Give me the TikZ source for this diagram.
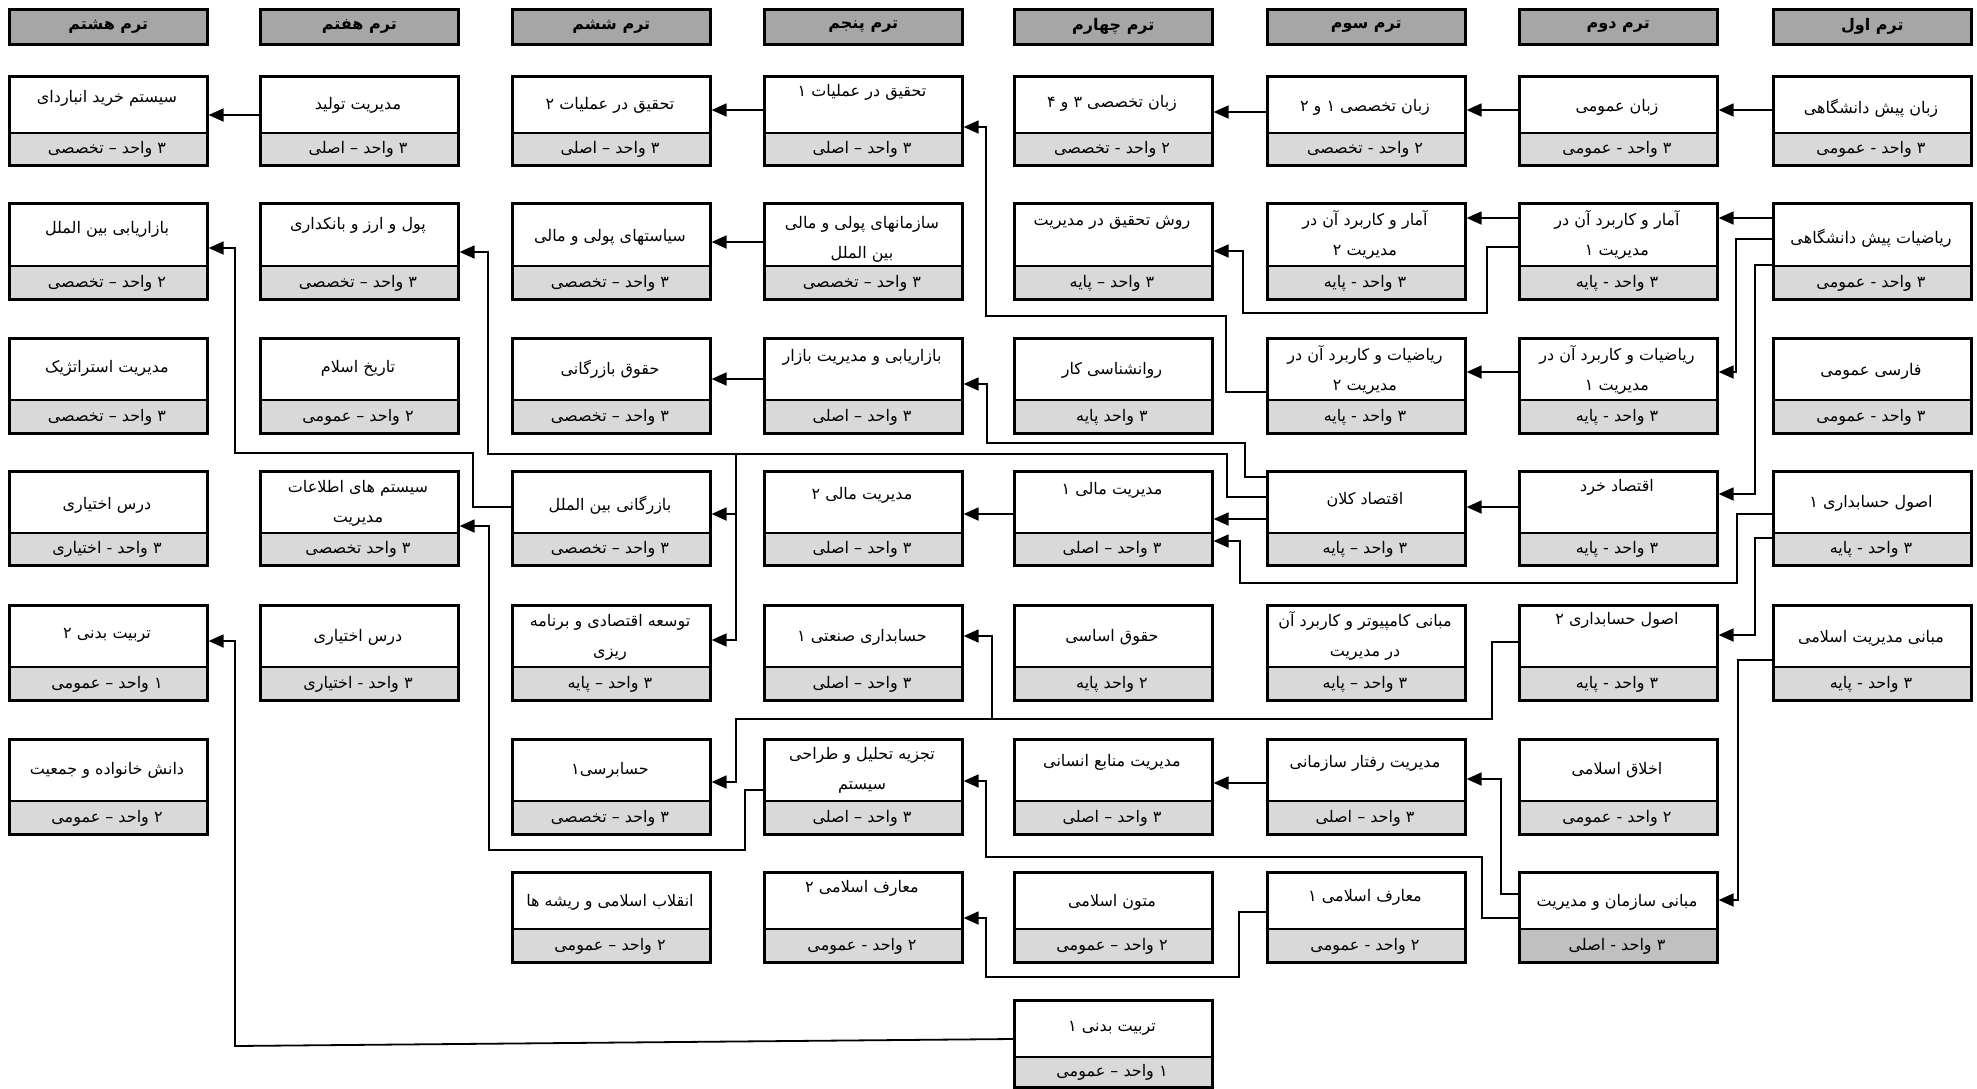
\documentclass[tikz,border=0pt]{standalone}
\usepackage{fontspec}
\newfontfamily\fa[Script=Arabic]{DejaVu Sans}
\TeXXeTstate=1
\usetikzlibrary{arrows.meta}
\definecolor{hdrgray}{HTML}{A6A6A6}
\definecolor{unitgray}{HTML}{D9D9D9}
\definecolor{unitdark}{HTML}{C0C0C0}
\makeatletter
\newcommand\setrow[4]{\@namedef{rt#1}{#2}\@namedef{rd#1}{#3}\@namedef{rb#1}{#4}}
\newcommand\setcol[2]{\@namedef{cx#1}{#2}}
\makeatother
\setrow{1}{75}{133}{164}
\setrow{2}{202}{266}{298}
\setrow{3}{337}{400}{432}
\setrow{4}{470}{533}{564}
\setrow{5}{604}{667}{699}
\setrow{6}{738}{801}{833}
\setrow{7}{871}{929}{961}
\setrow{8}{999}{1057}{1086}
\setcol{1}{1772}\setcol{2}{1518}\setcol{3}{1266}\setcol{4}{1013}
\setcol{5}{763}\setcol{6}{511}\setcol{7}{259}\setcol{8}{8}
\tikzset{
  boxframe/.style={draw, line width=1.3pt, minimum width=99pt, anchor=north west, inner sep=0pt},
  divline/.style={line width=1.3pt},
  nametext/.style={font=\fa\fontsize{8}{15}\selectfont, align=center, inner sep=0pt},
  unittext/.style={font=\fa\fontsize{8}{10}\selectfont, inner sep=0pt},
  hdr/.style={draw, line width=1.3pt, fill=hdrgray, minimum width=99pt, minimum height=17.5pt,
    anchor=north west, inner sep=0pt, font=\fa\bfseries\fontsize{8}{10}\selectfont},
  conn/.style={line width=0.9pt},
  arr/.style={conn, -{Triangle[length=7.5pt,width=6.5pt]}},
}
\newcommand\course[7]{%
  \edef\cT{\csname rt#3\endcsname}%
  \edef\cD{\csname rd#3\endcsname}%
  \edef\cB{\csname rb#3\endcsname}%
  \edef\cX{\csname cx#2\endcsname}%
  \fill[#7] ({\cX},{\cD}) rectangle ({\cX+198},{\cB});
  \draw[divline] ({\cX},{\cD}) -- ({\cX+198},{\cD});
  \node[boxframe, minimum height={(\cB-\cT)*0.5pt}] (#1) at ({\cX},{\cT}) {};
  \node[nametext] (#1-n) at ({\cX+99},{\cT+#4}) {#5};
  \node[unittext] (#1-u) at ({\cX+99},{(\cD+\cB)/2+1}) {#6};
}
\begin{document}
\begin{tikzpicture}[x=0.5pt, y=-0.5pt]
\useasboundingbox (0,0) rectangle (1977,1088);
\fill[white] (0,0) rectangle (1977,1088);
% headers
\node[hdr] (h1) at (1772,8) {\beginR ترم اول\endR};
\node[hdr] (h2) at (1518,8) {\beginR ترم دوم\endR};
\node[hdr] (h3) at (1266,8) {\beginR ترم سوم\endR};
\node[hdr] (h4) at (1013,8) {\beginR ترم چهارم\endR};
\node[hdr] (h5) at (763,8) {\beginR ترم پنجم\endR};
\node[hdr] (h6) at (511,8) {\beginR ترم ششم\endR};
\node[hdr] (h7) at (259,8) {\beginR ترم هفتم\endR};
\node[hdr] (h8) at (8,8) {\beginR ترم هشتم\endR};
% column 1
\course{c1r1}{1}{1}{33}{\beginR زبان پیش دانشگاهی\endR}{\beginR ۳ واحد - عمومی\endR}{unitgray}
\course{c1r2}{1}{2}{36}{\beginR ریاضیات پیش دانشگاهی\endR}{\beginR ۳ واحد - عمومی\endR}{unitgray}
\course{c1r3}{1}{3}{34}{\beginR فارسی عمومی\endR}{\beginR ۳ واحد - عمومی\endR}{unitgray}
\course{c1r4}{1}{4}{33}{\beginR اصول حسابداری ۱\endR}{\beginR ۳ واحد - پایه\endR}{unitgray}
\course{c1r5}{1}{5}{34}{\beginR مبانی مدیریت اسلامی\endR}{\beginR ۳ واحد - پایه\endR}{unitgray}
% column 2
\course{c2r1}{2}{1}{32}{\beginR زبان عمومی\endR}{\beginR ۳ واحد - عمومی\endR}{unitgray}
\course{c2r2}{2}{2}{33}{\beginR آمار و کاربرد آن در\endR\\\beginR مدیریت ۱\endR}{\beginR ۳ واحد - پایه\endR}{unitgray}
\course{c2r3}{2}{3}{33}{\beginR ریاضیات و کاربرد آن در\endR\\\beginR مدیریت ۱\endR}{\beginR ۳ واحد - پایه\endR}{unitgray}
\course{c2r4}{2}{4}{17}{\beginR اقتصاد خرد\endR}{\beginR ۳ واحد - پایه\endR}{unitgray}
\course{c2r5}{2}{5}{16}{\beginR اصول حسابداری ۲\endR}{\beginR ۳ واحد - پایه\endR}{unitgray}
\course{c2r6}{2}{6}{32}{\beginR اخلاق اسلامی\endR}{\beginR ۲ واحد - عمومی\endR}{unitgray}
\course{c2r7}{2}{7}{31}{\beginR مبانی سازمان و مدیریت\endR}{\beginR ۳ واحد - اصلی\endR}{unitdark}
% column 3
\course{c3r1}{3}{1}{32}{\beginR زبان تخصصی ۱ و ۲\endR}{\beginR ۲ واحد - تخصصی\endR}{unitgray}
\course{c3r2}{3}{2}{33}{\beginR آمار و کاربرد آن در\endR\\\beginR مدیریت ۲\endR}{\beginR ۳ واحد - پایه\endR}{unitgray}
\course{c3r3}{3}{3}{33}{\beginR ریاضیات و کاربرد آن در\endR\\\beginR مدیریت ۲\endR}{\beginR ۳ واحد - پایه\endR}{unitgray}
\course{c3r4}{3}{4}{30}{\beginR اقتصاد کلان\endR}{\beginR ۳ واحد – پایه\endR}{unitgray}
\course{c3r5}{3}{5}{32}{\beginR مبانی کامپیوتر و کاربرد آن\endR\\\beginR در مدیریت\endR}{\beginR ۳ واحد – پایه\endR}{unitgray}
\course{c3r6}{3}{6}{25}{\beginR مدیریت رفتار سازمانی\endR}{\beginR ۳ واحد – اصلی\endR}{unitgray}
\course{c3r7}{3}{7}{26}{\beginR معارف اسلامی ۱\endR}{\beginR ۲ واحد - عمومی\endR}{unitgray}
% column 4
\course{c4r1}{4}{1}{28}{\beginR زبان تخصصی ۳ و ۴\endR}{\beginR ۲ واحد - تخصصی\endR}{unitgray}
\course{c4r2}{4}{2}{21}{\beginR روش تحقیق در مدیریت\endR}{\beginR ۳ واحد – پایه\endR}{unitgray}
\course{c4r3}{4}{3}{33}{\beginR روانشناسی کار\endR}{\beginR ۳ واحد پایه\endR}{unitgray}
\course{c4r4}{4}{4}{20}{\beginR مدیریت مالی ۱\endR}{\beginR ۳ واحد – اصلی\endR}{unitgray}
\course{c4r5}{4}{5}{33}{\beginR حقوق اساسی\endR}{\beginR ۲ واحد پایه\endR}{unitgray}
\course{c4r6}{4}{6}{24}{\beginR مدیریت منابع انسانی\endR}{\beginR ۳ واحد – اصلی\endR}{unitgray}
\course{c4r7}{4}{7}{31}{\beginR متون اسلامی\endR}{\beginR ۲ واحد – عمومی\endR}{unitgray}
\course{c4r8}{4}{8}{29}{\beginR تربیت بدنی ۱\endR}{\beginR ۱ واحد – عمومی\endR}{unitgray}
% column 5
\course{c5r1}{5}{1}{17}{\beginR تحقیق در عملیات ۱\endR}{\beginR ۳ واحد – اصلی\endR}{unitgray}
\course{c5r2}{5}{2}{37}{\beginR سازمانهای پولی و مالی\endR\\\beginR بین الملل\endR}{\beginR ۳ واحد – تخصصی\endR}{unitgray}
\course{c5r3}{5}{3}{20}{\beginR بازاریابی و مدیریت بازار\endR}{\beginR ۳ واحد – اصلی\endR}{unitgray}
\course{c5r4}{5}{4}{25}{\beginR مدیریت مالی ۲\endR}{\beginR ۳ واحد – اصلی\endR}{unitgray}
\course{c5r5}{5}{5}{33}{\beginR حسابداری صنعتی ۱\endR}{\beginR ۳ واحد – اصلی\endR}{unitgray}
\course{c5r6}{5}{6}{32}{\beginR تجزیه تحلیل و طراحی\endR\\\beginR سیستم\endR}{\beginR ۳ واحد – اصلی\endR}{unitgray}
\course{c5r7}{5}{7}{17}{\beginR معارف اسلامی ۲\endR}{\beginR ۲ واحد - عمومی\endR}{unitgray}
% column 6
\course{c6r1}{6}{1}{30}{\beginR تحقیق در عملیات ۲\endR}{\beginR ۳ واحد – اصلی\endR}{unitgray}
\course{c6r2}{6}{2}{35}{\beginR سیاستهای پولی و مالی\endR}{\beginR ۳ واحد – تخصصی\endR}{unitgray}
\course{c6r3}{6}{3}{32}{\beginR حقوق بازرگانی\endR}{\beginR ۳ واحد – تخصصی\endR}{unitgray}
\course{c6r4}{6}{4}{35}{\beginR بازرگانی بین الملل\endR}{\beginR ۳ واحد – تخصصی\endR}{unitgray}
\course{c6r5}{6}{5}{33}{\beginR توسعه اقتصادی و برنامه\endR\\\beginR ریزی\endR}{\beginR ۳ واحد – پایه\endR}{unitgray}
\course{c6r6}{6}{6}{32}{\beginR حسابرسی۱\endR}{\beginR ۳ واحد – تخصصی\endR}{unitgray}
\course{c6r7}{6}{7}{31}{\beginR انقلاب اسلامی و ریشه ها\endR}{\beginR ۲ واحد – عمومی\endR}{unitgray}
% column 7
\course{c7r1}{7}{1}{30}{\beginR مدیریت تولید\endR}{\beginR ۳ واحد – اصلی\endR}{unitgray}
\course{c7r2}{7}{2}{23}{\beginR پول و ارز و بانکداری\endR}{\beginR ۳ واحد – تخصصی\endR}{unitgray}
\course{c7r3}{7}{3}{31}{\beginR تاریخ اسلام\endR}{\beginR ۲ واحد – عمومی\endR}{unitgray}
\course{c7r4}{7}{4}{33}{\beginR سیستم های اطلاعات\endR\\\beginR مدیریت\endR}{\beginR ۳ واحد تخصصی\endR}{unitgray}
\course{c7r5}{7}{5}{33}{\beginR درس اختیاری\endR}{\beginR ۳ واحد - اختیاری\endR}{unitgray}
% column 8
\course{c8r1}{8}{1}{23}{\beginR سیستم خرید انباردای\endR}{\beginR ۳ واحد – تخصصی\endR}{unitgray}
\course{c8r2}{8}{2}{27}{\beginR بازاریابی بین الملل\endR}{\beginR ۲ واحد – تخصصی\endR}{unitgray}
\course{c8r3}{8}{3}{31}{\beginR مدیریت استراتژیک\endR}{\beginR ۳ واحد – تخصصی\endR}{unitgray}
\course{c8r4}{8}{4}{35}{\beginR درس اختیاری\endR}{\beginR ۳ واحد - اختیاری\endR}{unitgray}
\course{c8r5}{8}{5}{31}{\beginR تربیت بدنی ۲\endR}{\beginR ۱ واحد – عمومی\endR}{unitgray}
\course{c8r6}{8}{6}{32}{\beginR دانش خانواده و جمعیت\endR}{\beginR ۲ واحد – عمومی\endR}{unitgray}
% straight connectors
\draw[arr] (c1r1.west |- 0,110) -- (c2r1.east |- 0,110);
\draw[arr] (c2r1.west |- 0,110) -- (c3r1.east |- 0,110);
\draw[arr] (c3r1.west |- 0,112) -- (c4r1.east |- 0,112);
\draw[arr] (c5r1.west |- 0,110) -- (c6r1.east |- 0,110);
\draw[arr] (c7r1.west |- 0,115) -- (c8r1.east |- 0,115);
\draw[arr] (c1r2.west |- 0,218) -- (c2r2.east |- 0,218);
\draw[arr] (c2r2.west |- 0,218) -- (c3r2.east |- 0,218);
\draw[arr] (c5r2.west |- 0,242) -- (c6r2.east |- 0,242);
\draw[arr] (c2r3.west |- 0,372) -- (c3r3.east |- 0,372);
\draw[arr] (c5r3.west |- 0,379) -- (c6r3.east |- 0,379);
\draw[arr] (c2r4.west |- 0,507) -- (c3r4.east |- 0,507);
\draw[arr] (c3r4.west |- 0,519) -- (c4r4.east |- 0,519);
\draw[arr] (c4r4.west |- 0,514) -- (c5r4.east |- 0,514);
\draw[arr] (c3r6.west |- 0,783) -- (c4r6.east |- 0,783);
% routed connectors
\draw[arr] (c1r2.west |- 0,239) -- (1736,239) -- (1736,372) -- (c2r3.east |- 0,372);
\draw[arr] (c1r2.west |- 0,265) -- (1755,265) -- (1755,494) -- (c2r4.east |- 0,494);
\draw[arr] (c1r4.west |- 0,514) -- (1737,514) -- (1737,583) -- (1240,583) -- (1240,541) -- (c4r4.east |- 0,541);
\draw[arr] (c1r4.west |- 0,538) -- (1755,538) -- (1755,635) -- (c2r5.east |- 0,635);
\draw[arr] (c1r5.west |- 0,660) -- (1738,660) -- (1738,900) -- (c2r7.east |- 0,900);
\draw[arr] (c2r2.west |- 0,247) -- (1487,247) -- (1487,313) -- (1243,313) -- (1243,251) -- (c4r2.east |- 0,251);
\draw[arr] (c3r3.west |- 0,392) -- (1226,392) -- (1226,316) -- (986,316) -- (986,127) -- (c5r1.east |- 0,127);
\draw[arr] (c3r4.west |- 0,477) -- (1245,477) -- (1245,443) -- (987,443) -- (987,384) -- (c5r3.east |- 0,384);
\draw[arr] (c3r4.west |- 0,497) -- (1227,497) -- (1227,454) -- (488,454) -- (488,252) -- (c7r2.east |- 0,252);
\draw[arr] (736,454) -- (736,640) -- (c6r5.east |- 0,640);
\draw[arr] (736,514) -- (c6r4.east |- 0,514);
\draw[arr] (c6r4.west |- 0,507) -- (473,507) -- (473,453) -- (235,453) -- (235,248) -- (c8r2.east |- 0,248);
\draw[arr] (c2r5.west |- 0,642) -- (1492,642) -- (1492,719) -- (736,719) -- (736,782) -- (c6r6.east |- 0,782);
\draw[arr] (992,719) -- (992,636) -- (c5r5.east |- 0,636);
\draw[arr] (c2r7.west |- 0,918) -- (1482,918) -- (1482,857) -- (986,857) -- (986,781) -- (c5r6.east |- 0,781);
\draw[arr] (c2r7.west |- 0,894) -- (1501,894) -- (1501,779) -- (c3r6.east |- 0,779);
\draw[arr] (c5r6.west |- 0,790) -- (745,790) -- (745,850) -- (489,850) -- (489,526) -- (c7r4.east |- 0,526);
\draw[arr] (c4r8.west |- 0,1039) -- (235,1046) -- (235,641) -- (c8r5.east |- 0,641);
\draw[arr] (c3r7.west |- 0,912) -- (1239,912) -- (1239,977) -- (986,977) -- (986,918) -- (c5r7.east |- 0,918);
\end{tikzpicture}
\end{document}
